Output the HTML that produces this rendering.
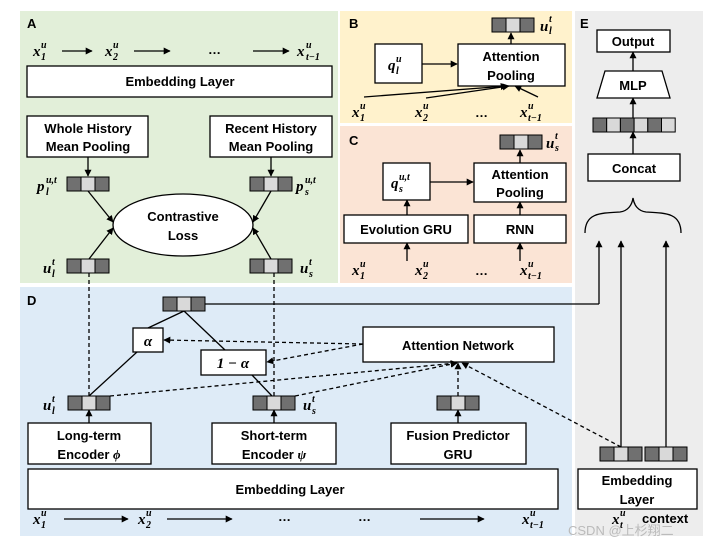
<!DOCTYPE html>
<html><head><meta charset="utf-8"><style>
html,body{margin:0;padding:0;background:#fff;}
svg{display:block;}
.t{font-family:"Liberation Sans",sans-serif;font-weight:bold;font-size:13px;fill:#000;}
.m{font-family:"Liberation Serif",serif;font-weight:bold;font-style:italic;font-size:15px;fill:#000;}
.s{font-family:"Liberation Serif",serif;font-weight:bold;font-style:italic;font-size:10px;fill:#000;}
.b{fill:#fff;stroke:#000;stroke-width:1.3;}
.l{stroke:#000;stroke-width:1.3;fill:none;}
.d{stroke:#000;stroke-width:1.3;fill:none;stroke-dasharray:4,3;}
</style></head><body>
<svg width="721" height="547" viewBox="0 0 721 547" xmlns="http://www.w3.org/2000/svg">
<defs>
<marker id="a" viewBox="0 0 10 10" refX="9" refY="5" markerWidth="7" markerHeight="7" orient="auto-start-reverse" markerUnits="userSpaceOnUse"><path d="M0,0 L10,5 L0,10 z" fill="#000"/></marker>
<g id="v"><rect x="0" y="0" width="14" height="14" fill="#707070" stroke="#000"/><rect x="14" y="0" width="14" height="14" fill="#d9d9d9" stroke="#000"/><rect x="28" y="0" width="14" height="14" fill="#707070" stroke="#000"/></g>
</defs>
<!-- panels -->
<rect x="20" y="11" width="318" height="272" fill="#e2efd9"/>
<rect x="340" y="11" width="232" height="112" fill="#fff2cc"/>
<rect x="340" y="126" width="232" height="157" fill="#fbe4d5"/>
<rect x="575" y="11" width="128" height="525" fill="#ededed"/>
<rect x="20" y="287" width="552" height="249" fill="#deebf7"/>

<!-- A -->
<text class="t" x="27" y="28">A</text>
<text class="m" x="33" y="56">x</text><text class="s" x="41" y="48">u</text><text class="s" x="41" y="60">1</text>
<line class="l" x1="62" y1="51" x2="92" y2="51" marker-end="url(#a)"/>
<text class="m" x="105" y="56">x</text><text class="s" x="113" y="48">u</text><text class="s" x="113" y="60">2</text>
<line class="l" x1="134" y1="51" x2="170" y2="51" marker-end="url(#a)"/>
<text class="t" x="208" y="54">…</text>
<line class="l" x1="253" y1="51" x2="289" y2="51" marker-end="url(#a)"/>
<text class="m" x="297" y="56">x</text><text class="s" x="306" y="48">u</text><text class="s" x="306" y="60">t−1</text>
<rect class="b" x="27" y="66" width="305" height="31"/>
<text class="t" x="180" y="86" text-anchor="middle">Embedding Layer</text>
<rect class="b" x="27" y="116" width="121" height="41"/>
<text class="t" x="88" y="133" text-anchor="middle">Whole History</text>
<text class="t" x="88" y="151" text-anchor="middle">Mean Pooling</text>
<rect class="b" x="210" y="116" width="122" height="41"/>
<text class="t" x="271" y="133" text-anchor="middle">Recent History</text>
<text class="t" x="271" y="151" text-anchor="middle">Mean Pooling</text>
<line class="l" x1="88" y1="157" x2="88" y2="176" marker-end="url(#a)"/>
<line class="l" x1="271" y1="157" x2="271" y2="176" marker-end="url(#a)"/>
<use href="#v" x="67" y="177"/><use href="#v" x="250" y="177"/>
<text class="m" x="37" y="191">p</text><text class="s" x="46" y="183">u,t</text><text class="s" x="46" y="195">l</text>
<text class="m" x="296" y="191">p</text><text class="s" x="305" y="183">u,t</text><text class="s" x="305" y="195">s</text>
<ellipse class="b" cx="183" cy="225" rx="70" ry="31"/>
<text class="t" x="183" y="221" text-anchor="middle">Contrastive</text>
<text class="t" x="183" y="240" text-anchor="middle">Loss</text>
<line class="l" x1="88" y1="191" x2="113" y2="222" marker-end="url(#a)"/>
<line class="l" x1="89" y1="259" x2="113" y2="228" marker-end="url(#a)"/>
<line class="l" x1="271" y1="191" x2="253" y2="222" marker-end="url(#a)"/>
<line class="l" x1="271" y1="259" x2="253" y2="228" marker-end="url(#a)"/>
<use href="#v" x="67" y="259"/><use href="#v" x="250" y="259"/>
<text class="m" x="43" y="273">u</text><text class="s" x="52" y="265">t</text><text class="s" x="52" y="277">l</text>
<text class="m" x="300" y="273">u</text><text class="s" x="309" y="265">t</text><text class="s" x="309" y="277">s</text>

<!-- B -->
<text class="t" x="349" y="28">B</text>
<use href="#v" x="492" y="18"/>
<text class="m" x="540" y="31">u</text><text class="s" x="549" y="22">t</text><text class="s" x="549" y="34">l</text>
<rect class="b" x="375" y="44" width="47" height="39"/>
<text class="m" x="388" y="70">q</text><text class="s" x="396" y="62">u</text><text class="s" x="396" y="74">l</text>
<line class="l" x1="422" y1="64" x2="457" y2="64" marker-end="url(#a)"/>
<rect class="b" x="458" y="44" width="107" height="42"/>
<text class="t" x="511" y="61" text-anchor="middle">Attention</text>
<text class="t" x="511" y="80" text-anchor="middle">Pooling</text>
<line class="l" x1="511" y1="44" x2="511" y2="33" marker-end="url(#a)"/>
<line class="l" x1="364" y1="97" x2="507" y2="86" marker-end="url(#a)"/>
<line class="l" x1="426" y1="98" x2="509" y2="86" marker-end="url(#a)"/>
<line class="l" x1="538" y1="97" x2="515" y2="86" marker-end="url(#a)"/>
<text class="m" x="352" y="117">x</text><text class="s" x="360" y="109">u</text><text class="s" x="360" y="121">1</text>
<text class="m" x="415" y="117">x</text><text class="s" x="423" y="109">u</text><text class="s" x="423" y="121">2</text>
<text class="t" x="475" y="117">…</text>
<text class="m" x="520" y="117">x</text><text class="s" x="528" y="109">u</text><text class="s" x="528" y="121">t−1</text>

<!-- C -->
<text class="t" x="349" y="145">C</text>
<use href="#v" x="500" y="135"/>
<text class="m" x="546" y="148">u</text><text class="s" x="555" y="139">t</text><text class="s" x="555" y="151">s</text>
<rect class="b" x="383" y="163" width="47" height="37"/>
<text class="m" x="391" y="188">q</text><text class="s" x="399" y="180">u,t</text><text class="s" x="399" y="192">s</text>
<line class="l" x1="430" y1="182" x2="473" y2="182" marker-end="url(#a)"/>
<rect class="b" x="474" y="163" width="92" height="39"/>
<text class="t" x="520" y="179" text-anchor="middle">Attention</text>
<text class="t" x="520" y="197" text-anchor="middle">Pooling</text>
<line class="l" x1="520" y1="163" x2="520" y2="150" marker-end="url(#a)"/>
<rect class="b" x="344" y="215" width="124" height="28"/>
<text class="t" x="406" y="234" text-anchor="middle">Evolution GRU</text>
<rect class="b" x="474" y="215" width="92" height="28"/>
<text class="t" x="520" y="234" text-anchor="middle">RNN</text>
<line class="l" x1="407" y1="215" x2="407" y2="200" marker-end="url(#a)"/>
<line class="l" x1="520" y1="215" x2="520" y2="202" marker-end="url(#a)"/>
<line class="l" x1="407" y1="261" x2="407" y2="243" marker-end="url(#a)"/>
<line class="l" x1="520" y1="261" x2="520" y2="243" marker-end="url(#a)"/>
<text class="m" x="352" y="275">x</text><text class="s" x="360" y="267">u</text><text class="s" x="360" y="279">1</text>
<text class="m" x="415" y="275">x</text><text class="s" x="423" y="267">u</text><text class="s" x="423" y="279">2</text>
<text class="t" x="475" y="275">…</text>
<text class="m" x="520" y="275">x</text><text class="s" x="528" y="267">u</text><text class="s" x="528" y="279">t−1</text>

<!-- E -->
<text class="t" x="580" y="28">E</text>
<rect class="b" x="597" y="30" width="73" height="22"/>
<text class="t" x="633" y="46" text-anchor="middle">Output</text>
<line class="l" x1="633" y1="71" x2="633" y2="52" marker-end="url(#a)"/>
<path class="b" d="M605,71 L662,71 L670,98 L597,98 z"/>
<text class="t" x="633" y="90" text-anchor="middle">MLP</text>
<line class="l" x1="633" y1="118" x2="633" y2="98" marker-end="url(#a)"/>
<rect x="593" y="118" width="13.7" height="14" fill="#707070" stroke="#000"/>
<rect x="606.7" y="118" width="13.7" height="14" fill="#d9d9d9" stroke="#000"/>
<rect x="620.4" y="118" width="13.7" height="14" fill="#707070" stroke="#000"/>
<rect x="634.1" y="118" width="13.7" height="14" fill="#d9d9d9" stroke="#000"/>
<rect x="647.8" y="118" width="13.7" height="14" fill="#707070" stroke="#000"/>
<rect x="661.5" y="118" width="13.7" height="14" fill="#d9d9d9" stroke="#000"/>
<line class="l" x1="633" y1="154" x2="633" y2="132" marker-end="url(#a)"/>
<rect class="b" x="588" y="154" width="92" height="27"/>
<text class="t" x="634" y="173" text-anchor="middle">Concat</text>
<path class="l" d="M585,233 C585,213 600,213 620,212 C628,211 632,205 633,198 C634,205 638,211 646,212 C666,213 681,213 681,233"/>
<line class="l" x1="599" y1="304" x2="599" y2="241" marker-end="url(#a)"/>
<line class="l" x1="621" y1="448" x2="621" y2="241" marker-end="url(#a)"/>
<line class="l" x1="666" y1="448" x2="666" y2="241" marker-end="url(#a)"/>
<use href="#v" x="600" y="447"/><use href="#v" x="645" y="447"/>
<rect class="b" x="578" y="469" width="119" height="40"/>
<text class="t" x="637" y="485" text-anchor="middle">Embedding</text>
<text class="t" x="637" y="504" text-anchor="middle">Layer</text>
<text class="m" x="612" y="524">x</text><text class="s" x="620" y="516">u</text><text class="s" x="620" y="528">t</text>
<text class="t" x="642" y="523">context</text>

<!-- D -->
<text class="t" x="27" y="305">D</text>
<line class="l" x1="205" y1="304" x2="599" y2="304"/>
<use href="#v" x="163" y="297"/>
<line class="d" x1="89" y1="273" x2="89" y2="396"/>
<line class="d" x1="274" y1="273" x2="274" y2="396"/>
<line class="l" x1="184" y1="311" x2="148" y2="328"/>
<line class="l" x1="137" y1="352" x2="89" y2="396"/>
<line class="l" x1="184" y1="311" x2="225" y2="350"/>
<line class="l" x1="252" y1="375" x2="272" y2="396"/>
<rect class="b" x="133" y="328" width="30" height="24"/>
<text class="m" x="148" y="346" text-anchor="middle">α</text>
<rect class="b" x="201" y="350" width="65" height="25"/>
<text class="m" x="233" y="368" text-anchor="middle">1 − α</text>
<rect class="b" x="363" y="327" width="191" height="35"/>
<text class="t" x="458" y="350" text-anchor="middle">Attention Network</text>
<line class="d" x1="363" y1="344" x2="164" y2="340" marker-end="url(#a)"/>
<line class="d" x1="363" y1="344" x2="267" y2="362" marker-end="url(#a)"/>
<line class="d" x1="110" y1="396" x2="457" y2="363" marker-end="url(#a)"/>
<line class="d" x1="295" y1="396" x2="457" y2="363" marker-end="url(#a)"/>
<line class="d" x1="458" y1="396" x2="458" y2="363" marker-end="url(#a)"/>
<line class="d" x1="621" y1="447" x2="462" y2="363" marker-end="url(#a)"/>
<use href="#v" x="68" y="396"/><use href="#v" x="253" y="396"/><use href="#v" x="437" y="396"/>
<text class="m" x="43" y="410">u</text><text class="s" x="52" y="402">t</text><text class="s" x="52" y="414">l</text>
<text class="m" x="303" y="410">u</text><text class="s" x="312" y="402">t</text><text class="s" x="312" y="414">s</text>
<line class="l" x1="89" y1="423" x2="89" y2="410" marker-end="url(#a)"/>
<line class="l" x1="274" y1="423" x2="274" y2="410" marker-end="url(#a)"/>
<line class="l" x1="458" y1="423" x2="458" y2="410" marker-end="url(#a)"/>
<rect class="b" x="28" y="423" width="123" height="41"/>
<text class="t" x="89" y="440" text-anchor="middle">Long-term</text>
<text class="t" x="89" y="459" text-anchor="middle">Encoder <tspan font-family="Liberation Serif" font-style="italic">ϕ</tspan></text>
<rect class="b" x="212" y="423" width="124" height="41"/>
<text class="t" x="274" y="440" text-anchor="middle">Short-term</text>
<text class="t" x="274" y="459" text-anchor="middle">Encoder <tspan font-family="Liberation Serif" font-style="italic">ψ</tspan></text>
<rect class="b" x="391" y="423" width="135" height="41"/>
<text class="t" x="458" y="440" text-anchor="middle">Fusion Predictor</text>
<text class="t" x="458" y="459" text-anchor="middle">GRU</text>
<rect class="b" x="28" y="469" width="530" height="40"/>
<text class="t" x="290" y="494" text-anchor="middle">Embedding Layer</text>
<text class="m" x="33" y="524">x</text><text class="s" x="41" y="516">u</text><text class="s" x="41" y="528">1</text>
<line class="l" x1="64" y1="519" x2="128" y2="519" marker-end="url(#a)"/>
<text class="m" x="138" y="524">x</text><text class="s" x="146" y="516">u</text><text class="s" x="146" y="528">2</text>
<line class="l" x1="167" y1="519" x2="232" y2="519" marker-end="url(#a)"/>
<text class="t" x="278" y="521">…</text>
<text class="t" x="358" y="521">…</text>
<line class="l" x1="420" y1="519" x2="484" y2="519" marker-end="url(#a)"/>
<text class="m" x="522" y="524">x</text><text class="s" x="530" y="516">u</text><text class="s" x="530" y="528">t−1</text>

<text x="568" y="535" font-family="Liberation Sans, Noto Sans CJK SC, sans-serif" font-size="13" fill="#bbbbbb">CSDN @上杉翔二</text>
</svg>
</body></html>
